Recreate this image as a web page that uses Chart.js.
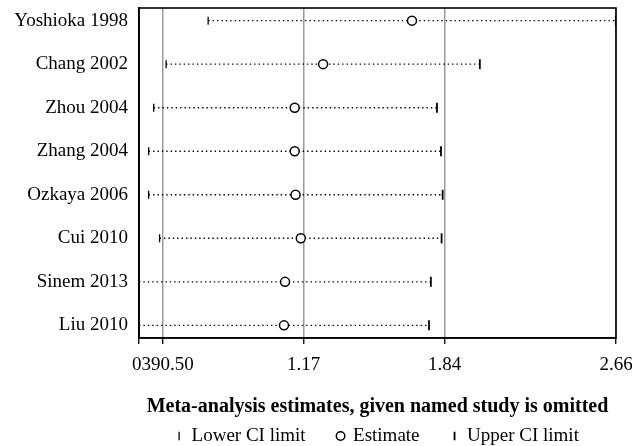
<!DOCTYPE html>
<html>
<head>
<meta charset="utf-8">
<script src="https://cdn.jsdelivr.net/npm/chart.js@4.4.1/dist/chart.umd.min.js"></script>
<style>
    html, body { margin: 0; padding: 0; background: #fff; }
    #wrap { width: 632px; height: 446px; }
</style>
</head>
<body>
<div id="wrap"><canvas id="study_omitted" width="632" height="446"></canvas></div>
<script>
// one row per omitted study (top to bottom)
var studies   = ['Yoshioka 1998', 'Chang 2002', 'Zhou 2004', 'Zhang 2004', 'Ozkaya 2006', 'Cui 2010', 'Sinem 2013', 'Liu 2010'];
var lowerCI   = [0.715, 0.515, 0.456, 0.432, 0.432, 0.484, 0.386, 0.386];
var estimates = [1.685, 1.262, 1.127, 1.127, 1.131, 1.156, 1.081, 1.076];
var upperCI   = [2.655, 2.008, 1.804, 1.823, 1.831, 1.826, 1.775, 1.766];

// x axis
var xMin = 0.386, xMax = 2.656;
var xTicks = [0.386, 0.50, 1.17, 1.84, 2.656];
var xTickLabels = ['', '0390.50', '1.17', '1.84', '2.66'];

var serif = "'Liberation Serif', 'DejaVu Serif', serif";
Chart.defaults.font.family = serif;
Chart.defaults.font.size = 19;
Chart.defaults.color = '#000';

function rowPoints(values) {
    return values.map(function(v, i) { return {x: v, y: i + 1}; });
}

// dotted segment lower -> upper for every study, broken by empty points
var ciSegments = [];
for (var i = 0; i < studies.length; i++) {
    ciSegments.push({x: lowerCI[i], y: i + 1});
    ciSegments.push({x: upperCI[i], y: i + 1});
    ciSegments.push({x: null, y: null});
}

// box round the plot area (top and right sides have no axis)
var plotFrame = {
    id: 'plotFrame',
    beforeDatasetsDraw: function(chart) {
        var a = chart.chartArea, ctx = chart.ctx;
        ctx.save();
        ctx.strokeStyle = '#000';
        ctx.lineWidth = 1.6;
        ctx.strokeRect(a.left, a.top, a.right - a.left, a.bottom - a.top);
        ctx.restore();
    }
};

var chart_study_omitted = document.getElementById('study_omitted');

let chartStudyOmitted = new Chart(chart_study_omitted, {
    type: 'scatter',
    data: {
        datasets: [{
                label: 'Lower CI limit',
                data: rowPoints(lowerCI),
                pointStyle: 'line',
                rotation: 90,
                pointRadius: 4,
                borderWidth: 1.3,
                borderColor: '#000',
                backgroundColor: '#000'
            }, {
                label: 'Estimate',
                data: rowPoints(estimates),
                pointStyle: 'circle',
                pointRadius: 4.5,
                borderWidth: 1.5,
                borderColor: '#000',
                backgroundColor: '#fff'
            }, {
                label: 'Upper CI limit',
                data: rowPoints(upperCI),
                pointStyle: 'line',
                rotation: 90,
                pointRadius: 5,
                borderWidth: 1.8,
                borderColor: '#000',
                backgroundColor: '#000'
            }, {
                type: 'line',
                label: 'CI',
                data: ciSegments,
                borderColor: '#000',
                borderWidth: 1.4,
                borderDash: [1.4, 3],
                pointRadius: 0,
                fill: false,
                spanGaps: false
            }
        ]
    },
    options: {
        responsive: false,
        animation: false,
        events: [],
        layout: {
            padding: {left: 0, right: 0, top: 8, bottom: -9.5}
        },
        plugins: {
            tooltip: {enabled: false},
            legend: {
                position: 'bottom',
                fullSize: false,
                labels: {
                    usePointStyle: true,
                    boxWidth: 6,
                    boxHeight: 6,
                    padding: 32,
                    color: '#000',
                    font: {size: 19},
                    filter: function(item) { return item.text !== 'CI'; }
                }
            }
        },
        scales: {
            x: {
                type: 'linear',
                min: xMin,
                max: xMax,
                afterBuildTicks: function(scale) {
                    scale.ticks = xTicks.map(function(v) { return {value: v}; });
                },
                afterFit: function(scale) {
                    scale.paddingLeft = 0;
                    scale.paddingRight = 16;
                },
                ticks: {
                    autoSkip: false,
                    maxRotation: 0,
                    padding: 10,
                    callback: function(value, index) { return xTickLabels[index]; }
                },
                grid: {
                    color: '#9a9a9a',
                    lineWidth: 1.5,
                    tickColor: '#000',
                    tickWidth: 1.3,
                    tickLength: 6
                },
                border: {color: '#000', width: 1.6},
                title: {
                    display: true,
                    text: 'Meta-analysis estimates, given named study is omitted',
                    font: {size: 20, weight: 'bold'},
                    padding: {top: 8.2, bottom: -24.5}
                }
            },
            y: {
                type: 'linear',
                reverse: true,
                min: 0.71,
                max: 8.29,
                afterBuildTicks: function(scale) {
                    scale.ticks = studies.map(function(s, i) { return {value: i + 1}; });
                },
                afterFit: function(scale) {
                    scale.width = 139;
                    scale.paddingTop = 0;
                    scale.paddingBottom = 0;
                },
                ticks: {
                    padding: 11,
                    callback: function(value) { return studies[value - 1]; }
                },
                grid: {display: false, drawTicks: false},
                border: {color: '#000', width: 1.6}
            }
        }
    },
    plugins: [plotFrame]
});
</script>
</body>
</html>
